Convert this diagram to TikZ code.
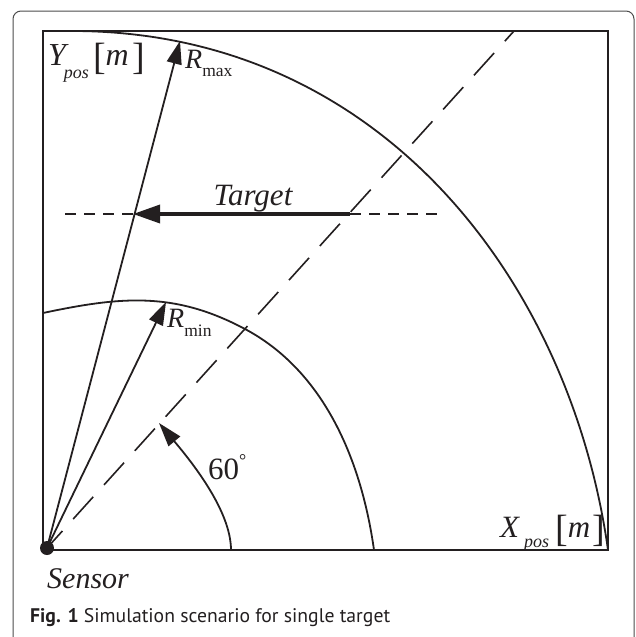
\documentclass[tikz,border=0pt]{standalone}
\usepackage{fontspec}
\setmainfont{Liberation Serif}
\newfontfamily\capfont{PT Sans}
\usetikzlibrary{arrows.meta}
\definecolor{ink}{HTML}{231F20}
\newcommand\mybrk[2]{\raisebox{#2}{\upshape\fontsize{38}{38}\selectfont #1}}
\begin{document}
\begin{tikzpicture}[x=1pt,y=-1pt,
  ln/.style={draw=ink, line width=1.8pt},
  radial/.style={ln, -{Triangle[length=23pt,width=15pt]}},
  tlabel/.style={inner sep=0pt, anchor=base west, text=ink}]
\useasboundingbox (0,0) rectangle (635,637);
% outer frame
\begin{scope}
\clip (0,0) rectangle (635,637);
\draw[black!70, line width=1pt, rounded corners=8pt] (13,11) rectangle (634,700);
\end{scope}
% axes box
\draw[ln] (43,31) rectangle (608,550);
% key points
\coordinate (rmaxtip) at (180,41);
\coordinate (rmintip) at (166,302);
\coordinate (diagend) at (514,31);
\coordinate (tgtL) at (65,214);
\coordinate (tgtR) at (443,214);
\coordinate (tgtS) at (350,214);
\coordinate (tgtE) at (133,214);
\coordinate (angS) at (231,550);
\coordinate (angE) at (159,423);
% arcs
\draw[ln] (72,31) .. controls (382,31) and (570.5,282.7) .. (608,550);
\draw[ln] (43,313) .. controls (121.2,296.4) and (174.4,291.4) .. (245,329)
          .. controls (324.5,371.3) and (361.5,460.9) .. (374,550);
% sensor
\node[circle, fill=ink, minimum size=14pt, inner sep=0pt] (sensor) at (47,548) {};
% radial lines
\draw[radial] (sensor.center) -- (rmaxtip);
\draw[radial] (sensor.center) -- (rmintip);
\draw[ink, line width=1.6pt, dash pattern=on 30pt off 16pt, dash phase=7pt] (sensor.center) -- (diagend);
% target
\draw[ink, line width=1.5pt, dash pattern=on 11pt off 8pt] (tgtL) -- (tgtR);
\draw[ink, line width=3.5pt, -{Triangle[length=27pt,width=18pt]}] (tgtS) -- (tgtE);
% 60 degree arc
\draw[ln, -{Triangle[length=24pt,width=15pt]}] (angS) .. controls (231,510) and (190,460) .. (angE);
% labels
\node[tlabel] (ylab) at (48,65) {\fontsize{32}{32}\selectfont\itshape Y\kern-2pt\raisebox{-13pt}{\fontsize{18}{18}\selectfont pos}\kern4pt\mybrk{[}{-4pt}m\kern4pt\mybrk{]}{-4pt}};
\node[tlabel] (xlab) at (500,537) {\fontsize{31}{31}\selectfont\itshape X\kern5pt\raisebox{-10pt}{\fontsize{18}{18}\selectfont pos}\kern6pt\mybrk{[}{-4.5pt}m\kern2pt\mybrk{]}{-4.5pt}};
\node[tlabel] (rmaxlab) at (185,68) {\fontsize{28}{28}\selectfont\itshape R\raisebox{-8pt}{\upshape\fontsize{17.5}{17.5}\selectfont max}};
\node[tlabel] (rminlab) at (167,327) {\fontsize{28}{28}\selectfont\itshape R\raisebox{-9pt}{\upshape\fontsize{17.5}{17.5}\selectfont min}};
\node[tlabel, anchor=base] (tgtlab) at (253,205) {\fontsize{31}{31}\selectfont\itshape Target};
\node[tlabel] (anglab) at (208,479) {\fontsize{31}{31}\selectfont 60\raisebox{13pt}{\fontsize{18}{18}\selectfont °}};
\node[tlabel] (senslab) at (47,588) {\fontsize{30}{30}\selectfont\itshape Sensor};
\node[tlabel] (cap) at (30,622) {\resizebox{360pt}{!}{\capfont\fontsize{20}{20}\selectfont\textbf{Fig. 1} Simulation scenario for single target}};
\end{tikzpicture}
\end{document}
